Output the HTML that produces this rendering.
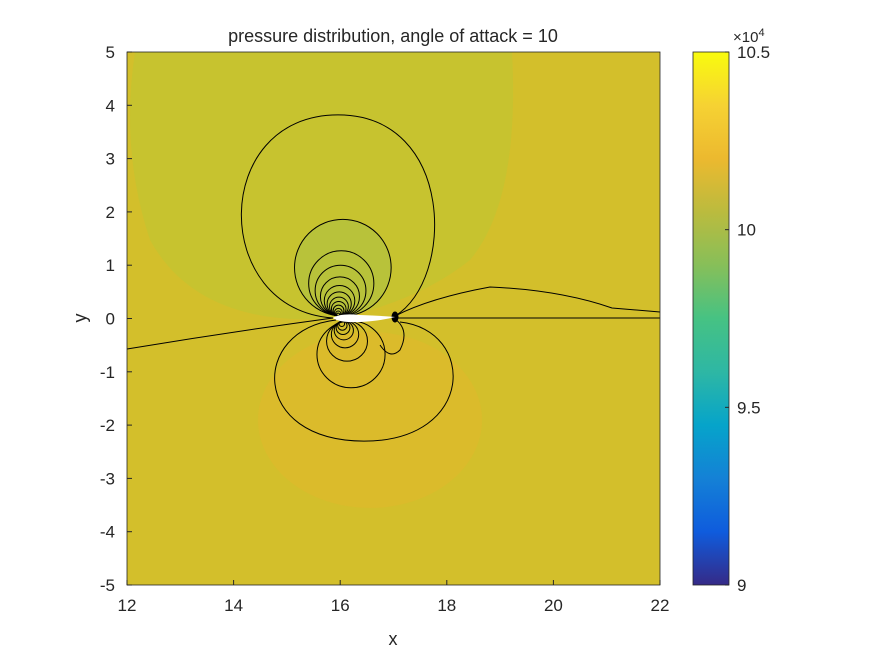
<!DOCTYPE html>
<html><head><meta charset="utf-8"><style>
body{margin:0;background:#fff;}
svg text{font-family:"Liberation Sans",sans-serif;fill:#262626;}
</style></head><body>
<svg id="c" width="875" height="656" xmlns="http://www.w3.org/2000/svg">
<defs>
<linearGradient id="parula" x1="0" y1="1" x2="0" y2="0">
<stop offset="0" stop-color="#352a87"/><stop offset="0.1" stop-color="#0f5cdd"/><stop offset="0.2" stop-color="#1481d6"/><stop offset="0.3" stop-color="#06a4ca"/><stop offset="0.4" stop-color="#2eb7a4"/><stop offset="0.5" stop-color="#46c283"/><stop offset="0.6" stop-color="#87bf59"/><stop offset="0.7" stop-color="#bbbb3e"/><stop offset="0.8" stop-color="#ecb92f"/><stop offset="0.9" stop-color="#f6d233"/><stop offset="1" stop-color="#f9fb0e"/>
</linearGradient>
<clipPath id="pc"><rect x="127" y="52" width="533" height="533"/></clipPath>
</defs>
<g clip-path="url(#pc)">
<rect x="127" y="52" width="533" height="533" fill="#d3bf2b"/>
<path d="M135 52 L512 52 Q520 200 470 260 Q420 300 340 318 Q200 330 150 240 Q120 150 135 52Z" fill="#c7c32f"/>
<ellipse cx="370" cy="420" rx="112" ry="88" fill="#dbbb2b"/>
<g id="fills"></g>
<g id="lines" fill="none" stroke="#000" stroke-width="1"></g>
<path d="M333 318 Q340 313 360 315 Q385 316 395 317 Q380 321 360 322 Q340 323 333 318Z" fill="#fff"/>
</g>
<rect x="127" y="52" width="533" height="533" fill="none" stroke="#262626" stroke-width="0.8"/>
<g id="axes"></g>
<text x="393" y="42" font-size="18" text-anchor="middle">pressure distribution, angle of attack = 10</text>
<text x="393" y="645" font-size="18" text-anchor="middle">x</text>
<text x="86" y="318" font-size="18" text-anchor="middle" transform="rotate(-90 86 318)">y</text>
<rect x="693" y="52" width="36" height="533" fill="url(#parula)" stroke="#262626" stroke-width="0.8"/>
<text x="733" y="42" font-size="15">×10<tspan font-size="11" dy="-6">4</tspan></text>
<g id="cbar"></g>
</svg>
<script>
const xTicks=[12,14,16,18,20,22];
const yTicks=[5,4,3,2,1,0,-1,-2,-3,-4,-5];
const cbTicks=[9,9.5,10,10.5];
// upper suction contours: top y of each circle (data units)
const upperTops=[3.82,1.86,1.27,1.0,0.78,0.62,0.5,0.4,0.32,0.25,0.19,0.14,0.1];
// lower contours: bottom y (data units)
const lowerBottoms=[-2.3,-1.3,-0.8,-0.55,-0.4,-0.3,-0.22,-0.15];
const NS='http://www.w3.org/2000/svg';
const X=v=>127+(v-12)*53.3, Y=v=>318.5-v*53.3, CY=v=>585-(v-9)/1.5*533;
function el(t,a,p){const e=document.createElementNS(NS,t);for(const k in a)e.setAttribute(k,a[k]);p.appendChild(e);return e;}
const ax=document.getElementById('axes'),ln=document.getElementById('lines'),cb=document.getElementById('cbar'),fl=document.getElementById('fills');
xTicks.forEach(v=>{const t=el('text',{x:X(v),y:611,'font-size':17,'text-anchor':'middle'},ax);t.textContent=v;


el('line',{x1:X(v),x2:X(v),y1:585,y2:580,stroke:'#262626'},ax);});
yTicks.forEach(v=>{const t=el('text',{x:115,y:Y(v)+6,'font-size':17,'text-anchor':'end'},ax);t.textContent=v;


el('line',{x1:127,x2:132,y1:Y(v),y2:Y(v),stroke:'#262626'},ax);});
cbTicks.forEach(v=>{const t=el('text',{x:737,y:CY(v)+6,'font-size':17},cb);t.textContent=v;


el('line',{x1:725,x2:729,y1:CY(v),y2:CY(v),stroke:'#262626'},cb);});
upperTops.forEach((t,i)=>{const top=Y(t),bot=316,r=(bot-top)/2,cx=338+r*0.1;
let c;
if(i===0){c=el('path',{d:`M333 318 C210 310 210 ${top} 338 ${top} C455 ${top} 455 280 395 316`},ln);}
else{
if(i===1){el('circle',{cx:cx,cy:top+r,r:r,fill:'#b8c23a'},fl);}
c=el('ellipse',{cx:cx,cy:top+r,rx:r,ry:r},ln);}

});
lowerBottoms.forEach((b,i)=>{const bot=Y(b),top=321,r=(bot-top)/2;
let c;
if(i===0){c=el('path',{d:`M336 320 C250 330 250 ${bot} 364 ${bot} C476 ${bot} 476 330 400 322`},ln);}
else{const cx=341+r*0.3;c=el('ellipse',{cx:cx,cy:top+r,rx:r*1.02,ry:r},ln);}

});
[['M127 349 Q230 332 333 318','left-streamline'],['M395 316 Q430 298 490 287 Q560 290 612 308 L660 312','upper-wake-contour'],['M398 318 L660 318','wake-line'],['M395 319 Q410 330 400 350 Q390 360 380 345','trailing-contour']].forEach(p=>{const e=el('path',{d:p[0]},ln);

});
el('ellipse',{cx:395,cy:317,rx:3,ry:5,fill:'#000'},ln);
</script>
</body></html>
